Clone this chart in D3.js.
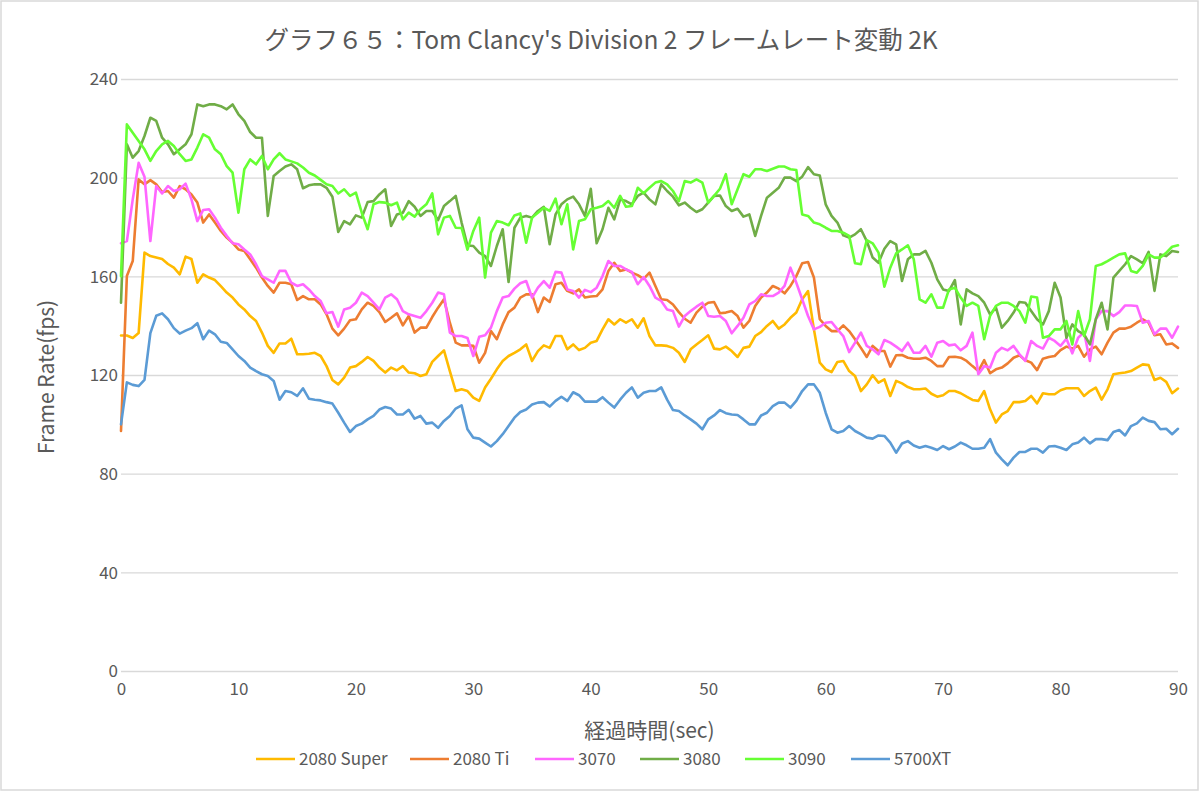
<!DOCTYPE html>
<html><head><meta charset="utf-8">
<script src="https://cdn.jsdelivr.net/npm/d3@7"></script>
<style>
html,body{margin:0;padding:0;background:#fff;}
svg{display:block;font-family:"Noto Sans CJK JP","Noto Sans",sans-serif;}
</style></head>
<body>
<svg id="chart" width="1200" height="792"></svg>
<script>
const title = "グラフ６５：Tom Clancy's Division 2 フレームレート変動 2K";
const xTitle = "経過時間(sec)";
const yTitle = "Frame Rate(fps)";
const xTicks = [0,10,20,30,40,50,60,70,80,90];
const yTicks = [0,40,80,120,160,200,240];
const seriesNames = ["2080 Super","2080 Ti","3070","3080","3090","5700XT"];
const seriesColors = ["#FFBA00","#ED7D31","#FF66FF","#70AD47","#66FF33","#5B9BD5"];
// time in seconds, 0.5 s step
const time = d3.range(0, 90.01, 0.5);

const s2080Super = [
136,136,135,137,169.6,168.2,167.6,167,165,163.5,
160.8,168,167,157.4,160.8,159.5,158.5,156,153.4,151.4,
148.6,146.6,143.9,141.9,137.2,131.8,129,132.8,132.8,134.7,
128.4,128.4,128.6,129,127.7,123.6,118,116.2,118.9,123,
123.6,125.3,127.3,125.7,123,121,123,121.9,123.6,121,
120.7,119.6,120.3,125.3,127.7,130,121.6,113.5,114.2,113.5,
110.8,109.5,114.9,118.5,122.3,125.7,127.7,129,130.4,132.4,
125.7,129.7,132,131,135.8,135.8,130.4,132.4,130.1,131,
133.1,133.8,138.5,142.6,140.5,142.6,141.2,142.6,139.2,143,
135.8,132,132,131.8,131,129,125.3,130.4,132.4,134.2,
136.1,130.7,130.4,131.5,129.7,127.3,131,131.5,135.8,137.4,
139.9,141.9,138.8,140.5,143.2,145.3,150.7,154,138.5,125,
122.3,121.2,125.3,125.7,121.6,119.6,113.5,116.2,119.9,116.9,
118.2,111.5,117.6,116.6,115.1,114.2,114.2,114.5,112.4,111.2,
111.8,113.5,113.5,112.6,111.2,109.9,109.5,113.5,106.1,100.7,
104,105.4,109,109,109.5,111.5,108.5,112.6,112.2,112.2,
113.8,114.6,114.6,114.6,111.5,113.5,114.9,110,114.2,120.3,
120.7,121,121.6,123,124.3,124,118,118.9,117.2,112.6,
114.5];

const s2080Ti = [
97.3,160.1,166.2,199.3,197.3,199,197.3,194.2,194.6,191.9,
196.6,195.3,193.2,189.9,181.8,185.1,181.8,178.4,175.7,173.6,
170.9,170.3,166.9,163.5,159.5,156.1,153.4,157.4,157.4,156.8,
150.4,152,150.7,150.7,148.6,144.6,138.8,136.1,138.8,142.2,
142.6,146.6,149.3,148,145.5,141.5,143.2,145,140.1,143.9,
137.2,139.2,139.2,143.5,147.3,150.7,141.2,133.1,132,132,
131.8,125,129,137.8,134.5,140.5,145.5,147.3,151.4,152.7,
152.7,145.5,151.4,149.6,156.8,157.4,154.1,153.1,154.7,151.4,
151.8,152,154.7,162.2,165.5,162.2,162.8,161.5,160.5,159,
161.5,156.1,150.7,150.4,148.6,145.5,142.8,141.2,145.3,147.7,
149.3,149.6,145,145.3,145.9,143.9,139.2,141.9,148,151.4,
153.4,156.1,155,153.1,156.1,160.1,165.3,165.8,159.5,142.6,
139.9,137.8,137.8,140.1,137.8,134.5,131,127.3,131.8,129.7,
129.7,123.4,128,128.1,127,126.6,126.6,127,125.7,123.6,
123.6,127.3,127.4,127,125.7,123.6,121.6,126,120.7,122.3,
123,124.7,127,128,126,125,122,126.6,127.3,127.7,
130.1,131.5,130.7,131.8,127.4,130.4,131.5,128.4,133.1,137.2,
138.8,138.8,139.6,141.2,142.6,141.2,136.1,136.5,132.4,132.8,
131];

const s3070 = [
173.4,174.3,191.2,206,200.4,174.3,196.6,193.6,196.6,194.6,
195.3,197.6,191.2,182.4,186.9,187.2,183.8,179.7,176.4,173.4,
173,170.9,168.9,164.9,160.1,158.8,157.4,162.2,162.2,157.4,
156.1,156.8,154.7,152,150,145,145.5,139.6,146.6,147.3,
149.3,153.4,152,149.3,146.6,151.4,152.7,150.7,145.9,144.6,
143.9,143.2,145.9,149.3,153.4,152.7,137.2,135.8,135.8,135,
127.7,135.5,136.1,139.2,145.9,151.4,152,155,157.2,158.1,
151.4,155.4,158.1,155.4,161.8,161.5,154.7,154.1,151.4,154.5,
153.6,155.4,160.1,166.2,164.2,164.2,162.8,161.8,156.8,159.7,
156.1,151.4,150,146.6,145.9,139.6,143.9,145.9,147.7,149.3,
143.9,143.6,143.9,141.9,136.9,139.9,143.2,148.6,150,152.7,
152,152,153.4,156.1,163.5,157.4,150.7,143.9,138.5,139.5,
141.2,141.5,138.5,135.8,129.3,133.1,137.2,131.8,130.4,128.4,
134.2,133.1,131.5,129.7,133.1,129,129,131.8,127.4,133.1,
133.8,132,132.4,130,131.8,137.2,120.3,123.6,123,129,
131,130,131.8,128.4,125.7,133.8,131.8,130.7,135.1,133.8,
131.8,134.7,128.8,135.1,137.4,125.7,142.6,145.9,145.9,143.9,
145.5,148.2,148.2,148,141.2,141.9,136.5,138.8,138.8,135.1,
139.6];

const s3080 = [
149.3,213.5,208.1,210.8,216.9,224.3,223,216.2,213.5,209.5,
211.5,213.5,217.6,229.7,229,229.7,229.7,229,227.7,229.7,
225.7,223,218.5,216.2,216.2,184.5,200.7,202.7,204.5,205.4,
203.4,195.7,196.9,197.3,197.3,195.9,192.3,178,182.4,181.1,
184.7,183.8,190.1,190.5,193.2,195.3,180.4,185.1,185.8,190.5,
188.2,184.5,186.5,186.5,182.8,188.5,190.5,192.6,181.8,172.5,
172.3,169.6,168.2,164.2,172.3,179.1,157.7,179.7,183.8,184.5,
183.8,186.5,188.2,173,185.1,189.2,191.2,192.3,189.2,184.5,
195.5,173.4,179.1,187.8,183.1,191.2,190.5,189.2,192.6,193.9,
191.2,189.2,197.3,194.6,192.3,188.8,189.9,187.8,186.1,187.2,
189.9,192.6,192.8,188.5,186.5,187.4,184.2,185.1,176.4,184.5,
191.9,193.9,195.9,200,200,198.6,200.4,204.3,201.4,200.9,
189.2,184.5,181.8,176.6,175.7,177,179.1,174.3,167.6,165.5,
171.2,174.3,173,158.1,166.9,168.9,168.9,170.3,165.5,158.8,
154.7,154.1,158.5,140.5,154.7,153.1,152,149.3,144.6,147.3,
139.2,141.9,145.3,149.6,149.3,145.9,142.6,140.5,145.9,157.4,
151.4,135.1,140.5,137.8,136.5,132.4,142.6,149.3,138.5,159.5,
162.2,164.9,168.2,166.9,165.3,169.9,154.1,168.9,168.2,170.3,
169.9];

const s3090 = [
160.1,221.6,218.2,214.9,211.5,206.8,210.8,213.5,214.9,212.8,
209.5,206.8,207.4,212.2,217.6,216.2,211.5,209.5,204.7,202,
185.8,203.4,207.4,205.4,208.8,203.4,207.4,209.9,207.4,206.6,
205.8,204.1,202,200.9,199.1,197.3,196.6,193.6,195.3,192.6,
193.9,185.8,179.1,189.2,190.1,189.9,188.8,189.9,183.1,185.8,
184.2,187.2,189.2,193.6,177,183.8,184.5,179.7,179.6,170.8,
178.4,183.8,159.5,177.7,182.4,181.8,180.7,184.7,185.5,173.6,
183.8,185.8,187.8,186.5,191.5,181.1,189.2,170.9,182.4,183.1,
187.2,187.8,188.5,190.5,187.8,192.6,188.2,188.5,195.9,193.7,
195.9,198,198.6,197.3,194.6,190.5,198.6,198,199.3,198,
189.9,192.6,195.5,201.4,189.2,195.3,201.4,200.4,203.4,203.4,
202.7,203.6,204.5,204.5,203.4,203.1,185.1,184.5,181.8,181.1,
179.7,178.4,178.4,177.7,176.4,165.3,164.9,174.7,173.4,169.6,
155.8,163.5,169.3,170.9,172.6,166.9,150.7,149.3,152.7,147.3,
147.3,154.7,155.4,151.4,148,149.3,148,134.5,144,148,
149.3,149.3,148,145.9,141.2,151.8,151.4,135.1,135.8,138.5,
138.5,141.9,132.4,145.9,135.8,142.6,164.2,164.9,166.2,167.6,
168.9,169.3,162.2,161.5,164.2,168.9,167.6,167.6,169.6,172,
172.6];

const s5700XT = [
100,117,116,115.5,118,137,144,145,142.6,139,
136.8,138,139,141,134.5,138,136.5,133.5,133,130.4,
127.7,125.7,123,121.6,120.3,119.6,117.6,110,113.5,113,
111.5,114.6,110.4,110,109.7,109,108.4,104.7,100.7,96.9,
99.3,100.3,102,103.4,106,107,106.4,104,104,105.9,
102.3,103.4,100.3,100.7,98.6,101.4,103.4,106.4,107.7,98,
94.6,94.2,92.6,91,93.2,96,99.3,102.7,105,106,
108,108.8,109,107.2,109.5,111.2,109.5,113,111.8,109.2,
109.2,109.2,111,108.8,106.8,110,112.8,115,110.8,112.8,
113.5,113.5,115,110,105.8,105.4,103.6,102,100.3,98,
102,103.6,105.8,104.5,104,103.8,102,100,100,103.6,
104.7,107.4,108.8,108.8,106.8,109.5,113.5,116.2,116.2,112.8,
104.7,98,96.6,97.3,99.3,97.3,96,94.6,94.2,95.5,
95.3,92.6,88.5,92.2,93.2,91.4,90.5,91.2,90.5,89.6,
91.2,89.9,91,92.6,91.5,90.1,90.1,90.5,94,88.5,
85.8,83.4,86.5,88.8,88.8,90.1,90.1,88.5,91,91.2,
90.5,89.6,91.9,92.6,94.6,92.3,94,94,93.6,96.9,
97.7,95.5,99.3,100.4,102.7,101.4,100.9,98,98.2,96,
98.2];

const seriesValues = [s2080Super, s2080Ti, s3070, s3080, s3090, s5700XT];

const svg = d3.select("#chart");
const W = 1200, H = 792;
const plot = {left:121, right:1178, top:79, bottom:671};
const FONT = "'Noto Sans CJK JP','Noto Sans',sans-serif";

// chart border
svg.append("rect").attr("x",1).attr("y",1).attr("width",W-3).attr("height",H-3)
  .attr("fill","#fff").attr("stroke","#d9d9d9").attr("stroke-width",1.5);

const x = d3.scaleLinear().domain([0,90]).range([plot.left, plot.right]);
const y = d3.scaleLinear().domain([0,240]).range([plot.bottom, plot.top]);

// gridlines + y tick labels
const yAxis = d3.axisLeft(y).tickValues(yTicks).tickSize(-(plot.right-plot.left)).tickFormat(d3.format("d"));
const gy = svg.append("g").attr("transform",`translate(${plot.left},0)`).call(yAxis);
gy.select(".domain").remove();
gy.selectAll(".tick line").attr("stroke","#d9d9d9").attr("stroke-width",1.3);
gy.selectAll(".tick text").attr("fill","#595959").style("font-size","17px")
  .style("font-family",FONT).attr("x",-3).attr("dy","0.34em");

const xAxis = d3.axisBottom(x).tickValues(xTicks).tickSize(0).tickPadding(12).tickFormat(d3.format("d"));
const gx = svg.append("g").attr("transform",`translate(0,${plot.bottom})`).call(xAxis);
gx.select(".domain").remove();
gx.selectAll(".tick text").attr("fill","#595959").style("font-size","17px")
  .style("font-family",FONT);

// series lines
const line = d3.line().x((d,i)=>x(time[i])).y(d=>y(d));
seriesValues.forEach((vals,k)=>{
  svg.append("path").datum(vals)
    .attr("d",line)
    .attr("fill","none")
    .attr("stroke",seriesColors[k])
    .attr("stroke-width",2.6)
    .attr("stroke-linejoin","round")
    .attr("stroke-linecap","round");
});

// title
svg.append("text").attr("x",601).attr("y",49).attr("text-anchor","middle")
  .attr("fill","#595959").style("font-size","24.5px").text(title);

// axis titles
svg.append("text").attr("x",(plot.left+plot.right)/2).attr("y",738).attr("text-anchor","middle")
  .attr("fill","#595959").style("font-size","21px").text(xTitle);
svg.append("text").attr("transform","translate(54,377) rotate(-90)").attr("text-anchor","middle")
  .attr("fill","#595959").style("font-size","21px").text(yTitle);

// legend
const legendX = [256,410,535,640,745,851];
const lg = svg.append("g");
seriesNames.forEach((n,k)=>{
  const g = lg.append("g").attr("transform",`translate(${legendX[k]},759)`);
  g.append("line").attr("x1",0).attr("x2",39).attr("y1",0).attr("y2",0)
    .attr("stroke",seriesColors[k]).attr("stroke-width",2.6);
  g.append("text").attr("x",43).attr("y",6).attr("fill","#595959")
    .style("font-size","17px").text(n);
});
</script>
</body></html>
